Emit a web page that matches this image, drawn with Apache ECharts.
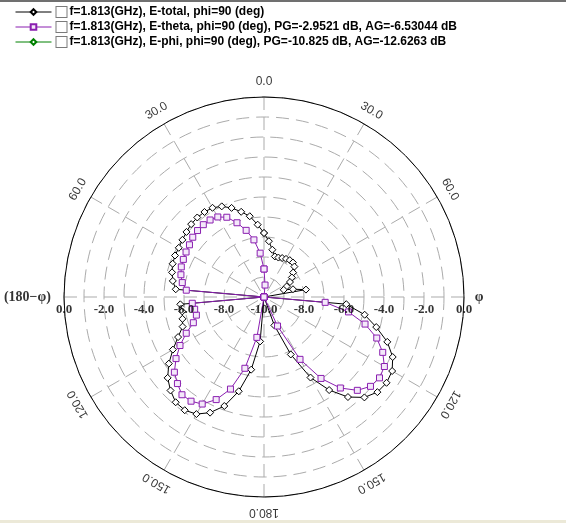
<!DOCTYPE html>
<html><head><meta charset="utf-8">
<script src="https://cdn.jsdelivr.net/npm/echarts@6/dist/echarts.min.js"></script>
<style>html,body{margin:0;padding:0;background:#fff}#c{width:566px;height:523px}</style>
</head><body><div id="c"></div>
<script>
// theta' (deg, clockwise from top; right half = phi 90, left half = 180-phi)
const angles = [0,5,10,15,20,25,30,35,40,45,50,55,
  60,65,70,75,80,85,90,95,100,105,110,115,
  120,125,130,135,140,145,150,155,160,165,170,175,
  180,185,190,195,200,205,210,215,220,225,230,235,
  240,245,250,255,260,265,270,275,280,285,290,295,
  300,305,310,315,320,325,330,335,340,345,350,355];

const seriesNames = [
  'f=1.813(GHz), E-total, phi=90 (deg)',
  'f=1.813(GHz), E-theta, phi=90 (deg), PG=-2.9521 dB, AG=-6.53044 dB',
  'f=1.813(GHz), E-phi, phi=90 (deg), PG=-10.825 dB, AG=-12.6263 dB'
];

const eTotal = [-6.8,-7.2,-7.6,-7.9,-7.9,-7.85,-7.8,-7.75,-7.75,-7.85,-8.1,-8.3,
  -8.5,-8.75,-8.95,-8.5,-7.87,-10,-10,-5.87,-4.89,-4.19,-3.44,-2.9,
  -2.6,-2.52,-2.6,-2.9,-3.47,-4.32,-5.35,-6.83,-8.49,-10,-10,-10,
  -10,-7.77,-6.31,-5.12,-4.2,-3.62,-3.24,-3.09,-3.13,-3.39,-3.71,-4.19,
  -4.74,-5.26,-5.67,-5.78,-5.85,-5.8,-10,-5.57,-5.37,-5.24,-5.14,-5.09,
  -5.08,-5.02,-4.94,-4.85,-4.81,-4.81,-4.85,-5.0,-5.26,-5.59,-5.9,-6.37];

const eTheta = [-8.6,-9.4,-10,-10,-10,-10,-10,-10,-10,-10,-10,-10,
  -10,-10,-10,-10,-10,-10,-10,-6.93,-5.71,-4.77,-4.0,-3.45,
  -3.05,-2.95,-3.05,-3.4,-4.06,-5.03,-6.4,-8.4,-10,-10,-10,-10,
  -10,-10,-7.95,-6.31,-5.1,-4.34,-3.82,-3.64,-3.62,-3.88,-4.15,-4.63,
  -5.15,-5.71,-6.24,-6.5,-6.48,-6.4,-10,-6.1,-5.85,-5.7,-5.6,-5.55,
  -5.5,-5.45,-5.35,-5.3,-5.28,-5.3,-5.38,-5.6,-6.05,-6.55,-7.1,-7.8];

const ePhi = [-10,-10,-10,-10,-10,-10,-10,-10,-10,-10,-10,-10,
  -10,-10,-10,-10,-10,-10,-10,-10,-10,-10,-10,-10,
  -10,-10,-10,-10,-10,-10,-10,-10,-10,-10,-10,-10,
  -10,-10,-10,-10,-10,-10,-10,-10,-10,-10,-10,-10,
  -10,-10,-10,-10,-10,-10,-10,-10,-10,-10,-10,-10,
  -10,-10,-10,-10,-10,-10,-10,-10,-10,-10,-10,-10];

// radial tick labels (dB) shown along the horizontal diameter
const radialTickValues = [0,-2,-4,-6,-8];
const radialTickLabels = ['0.0','-2.0','-4.0','-6.0','-8.0'];
const centerTickValue = -10;
const centerTickLabel = '-10.0';

// angle tick labels
const angleTickValues = [0,30,60,90,120,150,180,210,240,270,300,330];
const angleTickLabels = ['0.0','30.0','60.0','\u03c6','120.0','150.0','180.0','150.0','120.0','(180\u2212\u03c6)','60.0','30.0'];

function toPolar(vals){
  const d = vals.map((v,i)=>[v, angles[i]]);
  d.push([vals[0], 360]);
  return d;
}

const radialData = [];
radialTickValues.forEach((v,i)=>{
  radialData.push({value:[v,270], name:radialTickLabels[i]});
  radialData.push({value:[v,90], name:radialTickLabels[i]});
});
radialData.push({value:[centerTickValue,90], name:centerTickLabel});

const angleData = angleTickValues.map((a,i)=>{
  const item = {value:[1,a], name:angleTickLabels[i], label:{rotate:-a}};
  if (a === 90) item.label = {rotate:0, fontWeight:'bold', fontFamily:'Liberation Serif', fontSize:14};
  if (a === 270) item.label = {rotate:0, position:'left', distance:-2, fontWeight:'bold', fontFamily:'Liberation Serif', fontSize:14};
  return item;
});

const grid = {color:'#ababab', width:1, type:[13,7]};

const chart = echarts.init(document.getElementById('c'), null, {renderer:'canvas'});
chart.setOption({
  animation:false,
  backgroundColor:'#fff',
  graphic:[
    {type:'rect', shape:{x:0,y:0,width:566,height:2}, style:{fill:'#707070'}, silent:true},
    {type:'rect', shape:{x:0,y:520,width:566,height:3}, style:{fill:'#ece9d8'}, silent:true}
  ],
  legend:{
    orient:'vertical', left:15, top:6, padding:0, itemWidth:36, itemHeight:7, itemGap:3,
    selectedMode:false, data:seriesNames,
    lineStyle:{width:1},
    formatter: n => '{box|}{t|' + n + '}',
    textStyle:{
      rich:{
        box:{width:10, height:10, borderColor:'#7a7a7a', borderWidth:1, backgroundColor:'#fff'},
        t:{fontFamily:'Liberation Sans', fontWeight:'bold', fontSize:12, color:'#000', padding:[0,0,0,3], lineHeight:12}
      }
    }
  },
  polar:[
    {center:[264,297], radius:200},
    {center:[264,297], radius:215}
  ],
  angleAxis:[
    {polarIndex:0, type:'value', min:0, max:360, interval:30, startAngle:90, clockwise:true, z:3,
     axisLine:{show:true, lineStyle:{color:'#000', width:1}},
     axisTick:{show:false}, axisLabel:{show:false},
     splitLine:{show:true, lineStyle:grid}},
    {polarIndex:1, type:'value', min:0, max:360, startAngle:90, clockwise:true, show:false,
     axisLine:{show:false}, axisTick:{show:false}, axisLabel:{show:false}, splitLine:{show:false}}
  ],
  radiusAxis:[
    {polarIndex:0, type:'value', min:-10, max:0, interval:1,
     axisLine:{show:false}, axisTick:{show:false}, axisLabel:{show:false},
     splitLine:{show:true, lineStyle:grid}},
    {polarIndex:1, type:'value', min:0, max:1, show:false,
     axisLine:{show:false}, axisTick:{show:false}, axisLabel:{show:false}, splitLine:{show:false}}
  ],
  series:[
    {name:seriesNames[2], type:'line', coordinateSystem:'polar', polarIndex:0, data:toPolar(ePhi),
     symbol:'diamond', symbolSize:7, showAllSymbol:true, z:2,
     lineStyle:{color:'#008000', width:1}, itemStyle:{color:'#fff', borderColor:'#008000', borderWidth:1}},
    {name:seriesNames[0], type:'line', coordinateSystem:'polar', polarIndex:0, data:toPolar(eTotal),
     symbol:'diamond', symbolSize:7, showAllSymbol:true, z:3,
     lineStyle:{color:'#000', width:1}, itemStyle:{color:'#fff', borderColor:'#000', borderWidth:1}},
    {name:seriesNames[1], type:'line', coordinateSystem:'polar', polarIndex:0, data:toPolar(eTheta),
     symbol:'rect', symbolSize:6, showAllSymbol:true, z:4,
     lineStyle:{color:'#8a1fb0', width:1}, itemStyle:{color:'#f4e8fa', borderColor:'#8a1fb0', borderWidth:1}},
    {type:'scatter', coordinateSystem:'polar', polarIndex:0, data:radialData, symbolSize:0, silent:true, z:6,
     label:{show:true, position:'bottom', distance:6, formatter:'{b}', color:'#000',
       fontFamily:'Liberation Serif', fontWeight:'bold', fontSize:13}},
    {type:'scatter', coordinateSystem:'polar', polarIndex:1, data:angleData, symbolSize:0, silent:true, z:6,
     label:{show:true, position:'inside', formatter:'{b}', color:'#000',
       fontFamily:'Liberation Sans', fontSize:12}}
  ]
});
</script></body></html>
